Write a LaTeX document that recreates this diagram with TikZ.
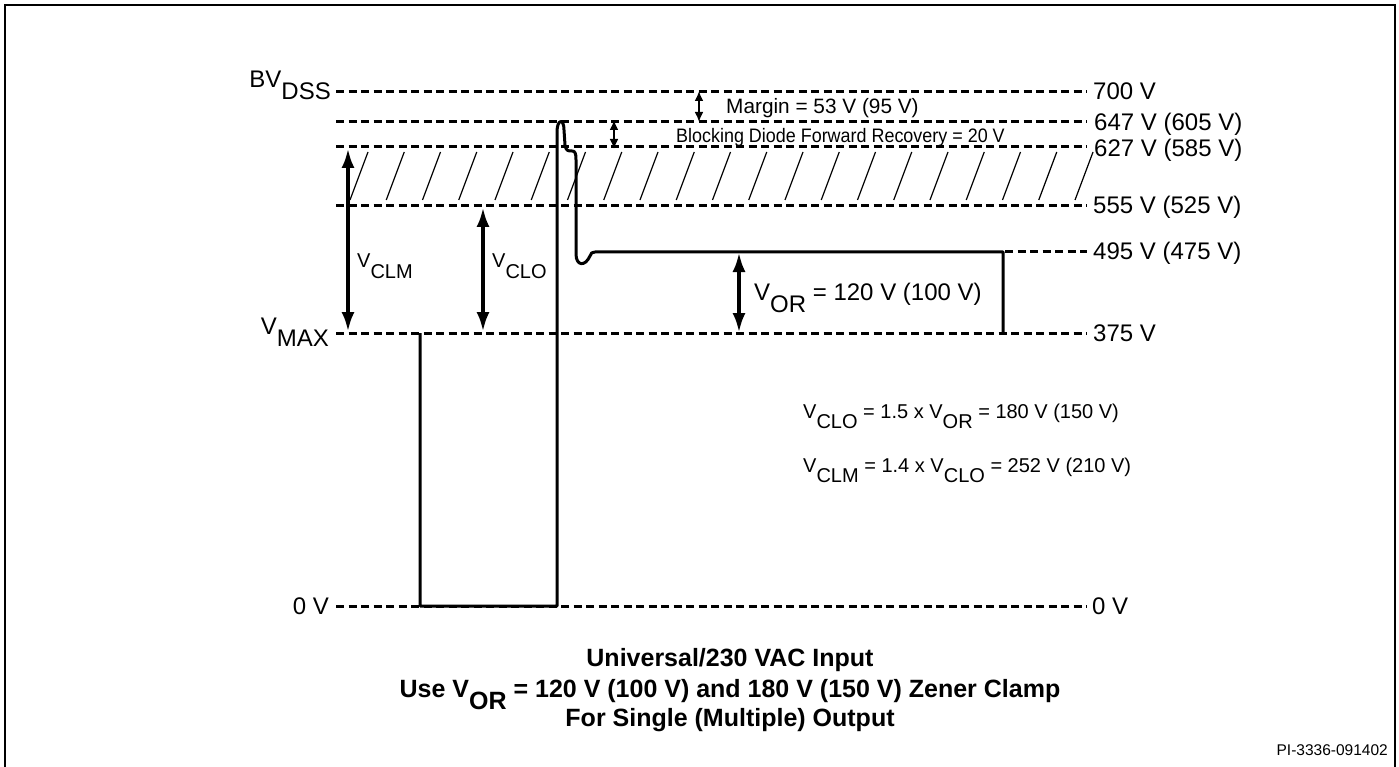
\documentclass[tikz,border=0pt]{standalone}
\usepackage{fontspec}
\setmainfont{Liberation Sans}
\usetikzlibrary{arrows.meta}
\newcommand\lo[1]{\raisebox{-0.5em}{#1}}
\tikzset{
  dashln/.style={line width=3pt, dash pattern=on 8pt off 4.5pt},
  wave/.style={line width=3pt, line join=round},
  hatchln/.style={line width=1.2pt},
  bigarr/.style={line width=4.5pt, {Latex[length=20pt,width=13pt]}-{Latex[length=20pt,width=13pt]}},
  smallarr/.style={line width=2.5pt, {Latex[length=10pt,width=9pt]}-{Latex[length=10pt,width=9pt]}},
  lbl/.style={font=\fontsize{24}{28}\selectfont, inner sep=0pt},
  smlbl/.style={font=\fontsize{20}{24}\selectfont, inner sep=0pt},
  ttl/.style={font=\fontsize{25}{29}\selectfont\bfseries, inner sep=0pt, anchor=base},
}
\begin{document}
\begin{tikzpicture}[x=1pt,y=-1pt]
\useasboundingbox (0,0) rectangle (1399,767);
\draw[line width=2.5pt] (5,790) -- (5,5) -- (1395,5) -- (1395,790);

% hatch
\foreach \i in {0,...,20} {
  \draw[hatchln] ({350+36.25*\i},200) -- ({368+36.25*\i},152);
}

% dashed level lines
\foreach \n/\y in {a/92,b/122,c/147,d/206,e/333,f/606} {
  \coordinate (L\n) at (336,\y);
  \coordinate (R\n) at (1087,\y);
  \draw[dashln] (L\n) -- (R\n);
}
\coordinate (Lg) at (1005,252);
\coordinate (Rg) at (1087,252);
\draw[dashln] (Lg) -- (Rg);

% right labels
\node[lbl, anchor=base west] (r700) at (1093,100) {700 V};
\node[lbl, anchor=base west] (r647) at (1094,131) {647 V (605 V)};
\node[lbl, anchor=base west] (r627) at (1094,157) {627 V (585 V)};
\node[lbl, anchor=base west] (r555) at (1093,214) {555 V (525 V)};
\node[lbl, anchor=base west] (r495) at (1093,260) {495 V (475 V)};
\node[lbl, anchor=base west] (r375) at (1093,341) {375 V};
\node[lbl, anchor=base west] (r0) at (1092,614) {0 V};

% left labels
\node[lbl, anchor=base east] (bv) at (331,88) {BV\lo{DSS}};
\node[lbl, anchor=base east] (vmax) at (329,334) {V\lo{MAX}};
\node[lbl, anchor=base east] (l0) at (329,614) {0 V};

% waveform
\draw[wave] (420,333) -- (420,606) -- (557,606) -- (557,132)
  .. controls (557,119) and (564,118) .. (564,130) -- (565,145)
  .. controls (566,151) and (568,151) .. (572,151)
  .. controls (575,151) and (576,153) .. (576,160) -- (576,254)
  .. controls (576,266) and (585,267) .. (590,256)
  .. controls (591,253) and (592,252) .. (595,252) -- (1003,252) -- (1003,333);

% arrows
\coordinate (clmT) at (348,148); \coordinate (clmB) at (348,332);
\coordinate (cloT) at (483,207); \coordinate (cloB) at (483,332);
\coordinate (orT) at (739,252);  \coordinate (orB) at (739,333);
\coordinate (mgT) at (699,91);   \coordinate (mgB) at (699,122);
\coordinate (bdT) at (614,120);  \coordinate (bdB) at (614,149);
\draw[bigarr] (clmT) -- (clmB);
\draw[bigarr] (cloT) -- (cloB);
\draw[bigarr] (orT) -- (orB);
\draw[smallarr] (mgT) -- (mgB);
\draw[smallarr] (bdT) -- (bdB);

\node[smlbl, anchor=base west] (vclm) at (357,268) {V\lo{CLM}};
\node[smlbl, anchor=base west] (vclo) at (492,268) {V\lo{CLO}};
\node[lbl, anchor=base west] (vor) at (754,300) {V\lo{OR} = 120 V (100 V)};
\node[font=\fontsize{20.8}{24}\selectfont, inner sep=0pt, anchor=base west] (mg) at (726,114) {Margin = 53 V (95 V)};
\node[inner sep=0pt, anchor=base west, font=\fontsize{19.5}{23}\selectfont] (bd) at (676,143) {\scalebox{0.92}[1]{Blocking Diode Forward Recovery = 20 V}};

% equations
\node[smlbl, anchor=base west] (eq1) at (803,418) {V\lo{CLO} = 1.5 x V\lo{OR} = 180 V (150 V)};
\node[smlbl, anchor=base west] (eq2) at (803,472) {V\lo{CLM} = 1.4 x V\lo{CLO} = 252 V (210 V)};

% title
\node[ttl] (t1) at (730,666) {Universal/230 VAC Input};
\node[ttl] (t2) at (730,697) {Use V\lo{OR} = 120 V (100 V) and 180 V (150 V) Zener Clamp};
\node[ttl] (t3) at (730,726) {For Single (Multiple) Output};

\node[inner sep=0pt, anchor=base east, font=\fontsize{15.5}{18}\selectfont] (pi) at (1388,755) {PI-3336-091402};
\end{tikzpicture}
\end{document}
